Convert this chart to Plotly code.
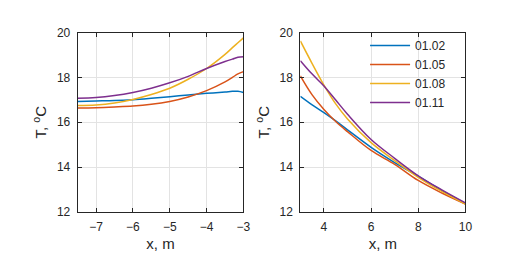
import plotly.graph_objects as go

names = ["01.02", "01.05", "01.08", "01.11"]
colors = ["#0072BD", "#D95319", "#EDB120", "#7E2F8E"]

# Left panel (x < 0)
x_left = [-7.5, -7.0, -6.5, -6.0, -5.5, -5.0, -4.5, -4.0, -3.5, -3.3, -3.15, -3.0]
T_left = [
    [16.93, 16.95, 16.97, 17.01, 17.07, 17.14, 17.22, 17.29, 17.35, 17.38, 17.38, 17.33],
    [16.64, 16.65, 16.68, 16.72, 16.80, 16.93, 17.13, 17.41, 17.80, 18.00, 18.16, 18.26],
    [16.75, 16.77, 16.86, 17.02, 17.24, 17.52, 17.92, 18.40, 19.03, 19.33, 19.55, 19.77],
    [17.07, 17.10, 17.19, 17.33, 17.52, 17.76, 18.05, 18.40, 18.71, 18.82, 18.90, 18.93],
]

# Right panel (x > 0)
x_right = [3.0, 3.5, 4.0, 4.5, 5.0, 6.0, 7.0, 8.0, 9.0, 10.0]
T_right = [
    [17.16, 16.78, 16.43, 16.06, 15.66, 14.88, 14.20, 13.59, 12.95, 12.38],
    [18.07, 17.22, 16.57, 16.03, 15.58, 14.74, 14.12, 13.40, 12.84, 12.35],
    [19.63, 18.62, 17.66, 16.82, 16.15, 15.09, 14.29, 13.54, 12.91, 12.35],
    [18.75, 18.15, 17.62, 16.99, 16.36, 15.23, 14.39, 13.61, 12.98, 12.40],
]

fig = go.Figure()
for i in range(4):
    fig.add_trace(go.Scatter(x=x_left, y=T_left[i], mode="lines", name=names[i],
                             line=dict(color=colors[i], width=1.5, shape="spline"),
                             showlegend=False, xaxis="x", yaxis="y"))
for i in range(4):
    fig.add_trace(go.Scatter(x=x_right, y=T_right[i], mode="lines", name=names[i],
                             line=dict(color=colors[i], width=1.5, shape="spline"),
                             showlegend=True, xaxis="x2", yaxis="y2"))

W, H = 514, 254
ydom = [(H - 208.3) / H, (H - 18.7) / H]
tickfont = dict(family="Liberation Sans, Arial, sans-serif", size=12, color="#262626")
titlefont = dict(family="Liberation Sans, Arial, sans-serif", size=15, color="#262626")

common_ax = dict(showline=True, linecolor="#262626", linewidth=1, mirror="allticks",
                 ticks="inside", ticklen=4, tickcolor="#262626", showgrid=True,
                 gridcolor="#e3e3e3", gridwidth=1, zeroline=False, tickfont=tickfont,
                 ticklabelstandoff=4)

fig.update_layout(
    width=W, height=H,
    margin=dict(l=0, r=0, t=0, b=0),
    paper_bgcolor="white", plot_bgcolor="white",
    xaxis=dict(domain=[70.6 / W, 238.7 / W], range=[-7.5, -3], tickvals=[-7, -6, -5, -4, -3],
               anchor="y", title=dict(text="x, m", font=titlefont, standoff=5), **common_ax),
    yaxis=dict(domain=ydom, range=[12, 20], tickvals=[12, 14, 16, 18, 20], anchor="x",
               title=dict(text="T, <sup>o</sup>C", font=titlefont, standoff=6), **common_ax),
    xaxis2=dict(domain=[296.4 / W, 463.7 / W], range=[3, 10], tickvals=[4, 6, 8, 10],
                anchor="y2", title=dict(text="x, m", font=titlefont, standoff=5), **common_ax),
    yaxis2=dict(domain=ydom, range=[12, 20], tickvals=[12, 14, 16, 18, 20], anchor="x2",
                title=dict(text="T, <sup>o</sup>C", font=titlefont, standoff=6), **common_ax),
    legend=dict(x=362 / W, y=1 - 17 / H, xanchor="left", yanchor="top",
                bgcolor="rgba(255,255,255,0)", borderwidth=0,
                font=dict(family="Liberation Sans, Arial, sans-serif", size=12, color="#262626"),
                tracegroupgap=0, itemwidth=40),
    showlegend=True,
)

fig.write_html("out.html")
